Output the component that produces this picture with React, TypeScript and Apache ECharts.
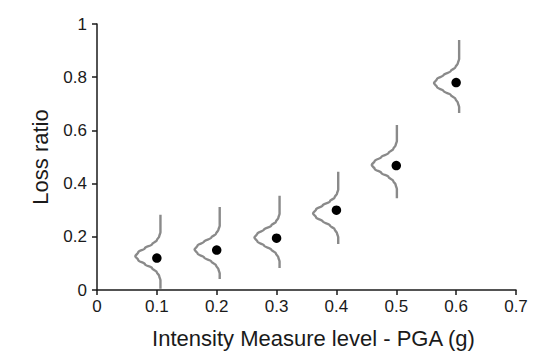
import React, { useEffect, useRef } from "react";
import * as echarts from "echarts";

// Intensity measure levels (PGA, g) and mean loss ratios (black dots)
const IM_LEVELS = [0.1, 0.2, 0.3, 0.4, 0.5, 0.6];
const LOSS_MEAN = [0.12, 0.15, 0.195, 0.3, 0.468, 0.78];

// Distribution curves drawn beside each point
const CURVE_BASE_X = [0.106, 0.205, 0.305, 0.403, 0.501, 0.605];
const CURVE_PEAK = [0.127, 0.152, 0.197, 0.288, 0.47, 0.778];
const CURVE_TOP = [0.283, 0.312, 0.354, 0.445, 0.62, 0.94];
const CURVE_BOTTOM = [0.005, 0.041, 0.083, 0.173, 0.345, 0.665];

// Bell shape profile: vertical offset from peak (loss ratio)
// and leftward offset from the curve's baseline (g)
const PROFILE_DY = [-0.09, -0.075, -0.06, -0.045, -0.03, -0.015, 0, 0.015, 0.03, 0.045, 0.06, 0.075, 0.09];
const PROFILE_DX = [0, 0.002, 0.006, 0.014, 0.026, 0.037, 0.042, 0.037, 0.026, 0.014, 0.006, 0.002, 0];

const X_MIN = 0;
const X_MAX = 0.7;
const X_INTERVAL = 0.1;
const Y_MIN = 0;
const Y_MAX = 1;
const Y_INTERVAL = 0.2;

const X_NAME = "Intensity Measure level - PGA (g)";
const Y_NAME = "Loss ratio";

export default function App() {
  const ref = useRef<HTMLDivElement>(null);

  useEffect(() => {
    if (!ref.current) return;
    const chart = echarts.init(ref.current, undefined, { renderer: "svg" });

    const curveSeries = IM_LEVELS.map((_, i) => {
      const pts: number[][] = [];
      pts.push([CURVE_BASE_X[i], CURVE_BOTTOM[i]]);
      for (let k = 0; k < PROFILE_DY.length; k++) {
        pts.push([CURVE_BASE_X[i] - PROFILE_DX[k], CURVE_PEAK[i] + PROFILE_DY[k]]);
      }
      pts.push([CURVE_BASE_X[i], CURVE_TOP[i]]);
      return {
        type: "line",
        data: pts,
        smooth: 0.35,
        smoothMonotone: "y",
        showSymbol: false,
        symbol: "none",
        lineStyle: { color: "#8a8a8a", width: 2.4 },
        z: 2,
        silent: true,
      };
    });

    const fontFamily = "'Liberation Sans', Arial, Helvetica, sans-serif";

    chart.setOption({
      animation: false,
      grid: { left: 97, right: 33, top: 24, bottom: 67, containLabel: false },
      xAxis: {
        type: "value",
        min: X_MIN,
        max: X_MAX,
        interval: X_INTERVAL,
        name: X_NAME,
        nameLocation: "middle",
        nameGap: 37,
        nameTextStyle: { fontSize: 22, color: "#1a1a1a", fontFamily, padding: [0, 0, 0, 14] },
        axisLine: { show: true, onZero: false, lineStyle: { color: "#1a1a1a", width: 1.5 } },
        axisTick: { show: true, length: 5, lineStyle: { color: "#1a1a1a", width: 1.5 } },
        axisLabel: { fontSize: 17, color: "#1a1a1a", margin: 8, fontFamily },
        splitLine: { show: false },
      },
      yAxis: {
        type: "value",
        min: Y_MIN,
        max: Y_MAX,
        interval: Y_INTERVAL,
        name: Y_NAME,
        nameLocation: "middle",
        nameGap: 46,
        nameTextStyle: { fontSize: 22, color: "#1a1a1a", fontFamily },
        axisLine: { show: true, onZero: false, lineStyle: { color: "#1a1a1a", width: 1.5 } },
        axisTick: { show: true, length: 5, lineStyle: { color: "#1a1a1a", width: 1.5 } },
        axisLabel: { fontSize: 17, color: "#1a1a1a", margin: 10, fontFamily },
        splitLine: { show: false },
      },
      series: [
        ...curveSeries,
        {
          type: "scatter",
          data: IM_LEVELS.map((x, i) => [x, LOSS_MEAN[i]]),
          symbol: "circle",
          symbolSize: 9.5,
          itemStyle: { color: "#000000", opacity: 1 },
          z: 3,
          silent: true,
        },
      ],
    });

    return () => chart.dispose();
  }, []);

  return (
    <div
      ref={ref}
      style={{ position: "fixed", left: 0, top: 0, width: 549, height: 357, background: "#ffffff" }}
    />
  );
}
